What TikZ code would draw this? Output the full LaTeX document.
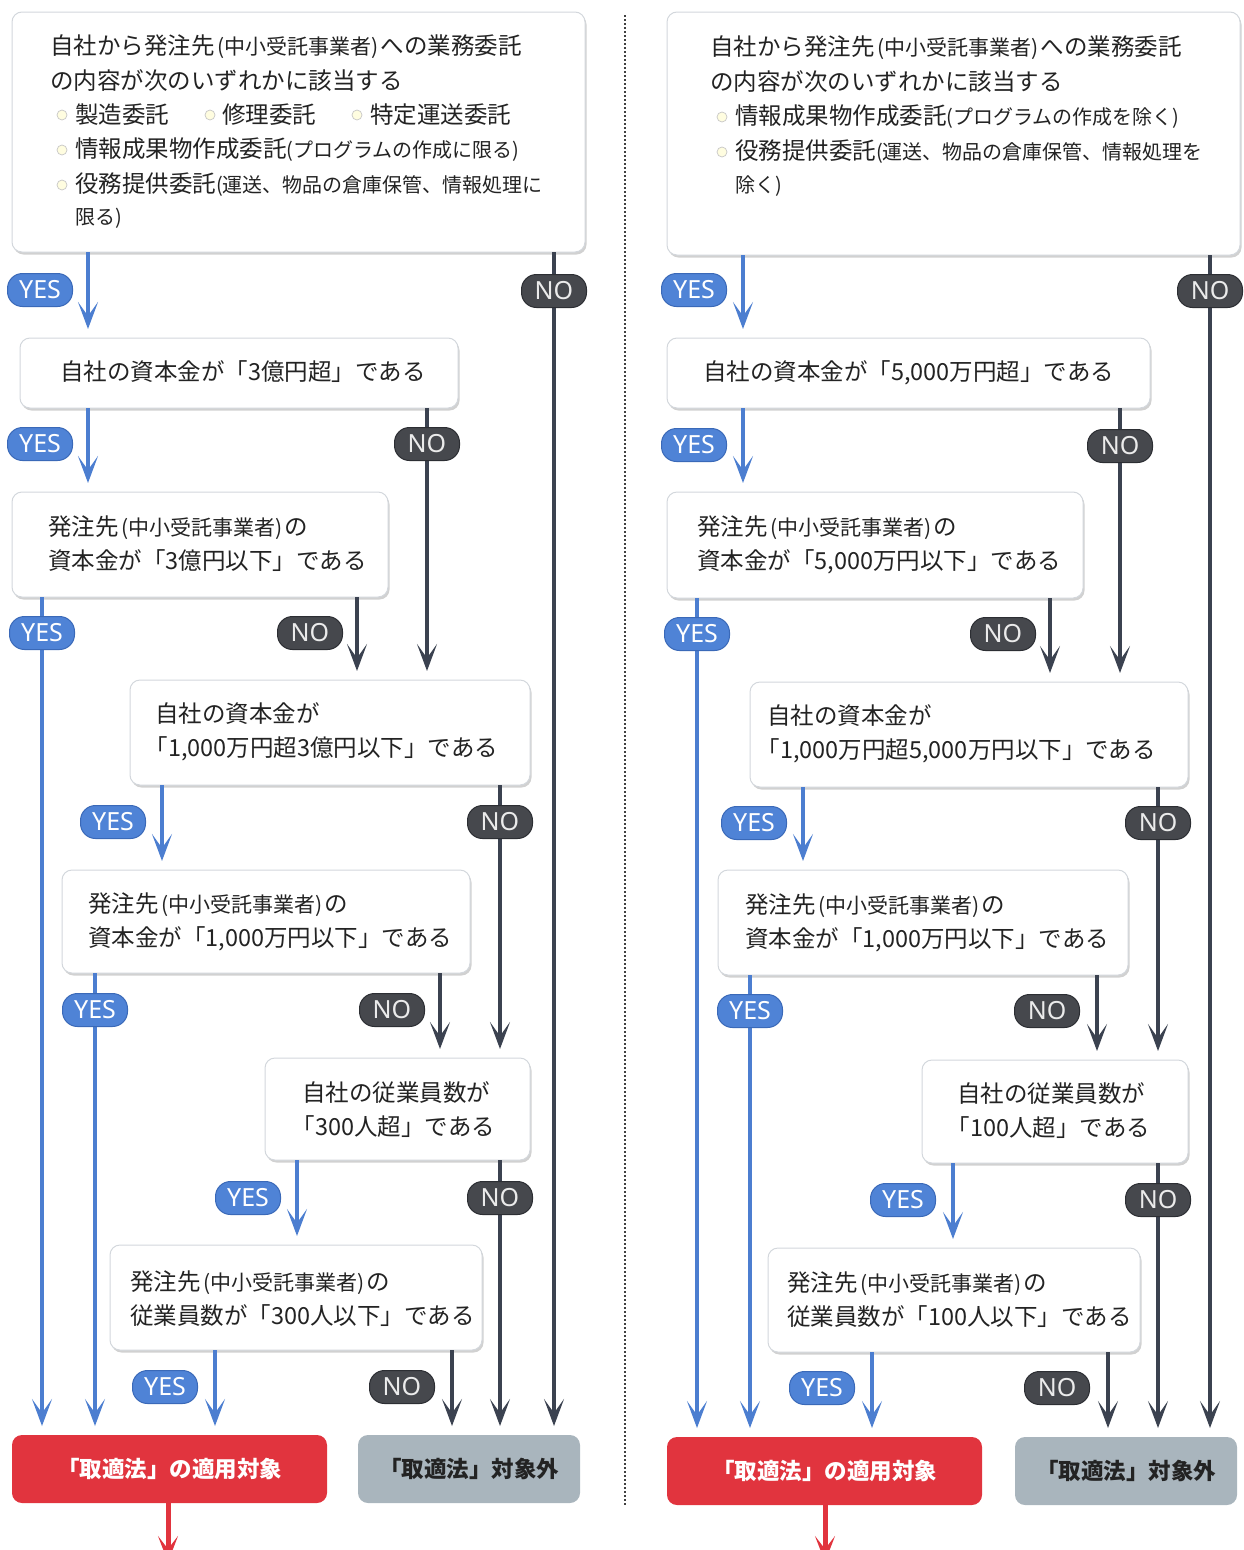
\documentclass[tikz,border=0pt]{standalone}
\usepackage{fontspec}
\setmainfont{Noto Sans CJK JP}
\newfontfamily\latfont{Noto Sans}
\usetikzlibrary{arrows.meta,shadows}
\definecolor{yesline}{HTML}{4C7ED0}
\definecolor{yesfill}{HTML}{4F83D6}
\definecolor{yesdraw}{HTML}{3A69B8}
\definecolor{noline}{HTML}{3B4250}
\definecolor{nofill}{HTML}{46484D}
\definecolor{nodraw}{HTML}{2C2E33}
\definecolor{redbox}{HTML}{E1343E}
\definecolor{graybox}{HTML}{A9B5BD}
\definecolor{boxline}{HTML}{D3D7DC}
\definecolor{txtcol}{HTML}{232323}
\newcommand\sm[1]{{\fontsize{20}{34}\selectfont #1}}
\newcommand\smp[1]{\hspace{3pt}{\fontsize{21}{34}\selectfont #1}\hspace{2pt}}
\newcommand\ob{\hspace*{-0.45em}}
\newcommand\mkbox[7]{\node[#1, minimum width={(#5-#3)*1pt}, minimum height={(#6-#4)*1pt}] (#2) at ({(#3+#5)/2},{(#4+#6)/2}) {#7};}
\begin{document}
\begin{tikzpicture}[x=1pt,y=-1pt,
  box/.style={draw=boxline, line width=1pt, fill=white, rounded corners=10pt, inner sep=0pt, outer sep=0pt,
    drop shadow={shadow xshift=1.5pt, shadow yshift=-2.5pt, opacity=0.18, fill=black}},
  redterm/.style={fill=redbox, rounded corners=10pt, inner sep=0pt, outer sep=0pt, text=white,
    font=\fontsize{22.5}{26}\bfseries\selectfont},
  grayterm/.style={fill=graybox, rounded corners=10pt, inner sep=0pt, outer sep=0pt, text=txtcol,
    font=\fontsize{22.5}{26}\bfseries\selectfont},
  txt/.style={anchor=west, inner sep=0pt, align=left, text=txtcol, font=\fontsize{23.5}{34}\selectfont},
  bul/.style={circle, minimum size=10pt, inner sep=0pt, draw=black!22, line width=0.7pt, fill=yellow!12},
  tip/.style={-{Stealth[length=27pt,width=20pt,inset=14pt]}},
  yarr/.style={tip, draw=yesline, line width=4.5pt, shorten >=9pt},
  narr/.style={tip, draw=noline, line width=4pt, shorten >=9pt},
  rarr/.style={-{Stealth[length=26pt,width=20pt,inset=13pt]}, draw=redbox, line width=5pt},
  pill/.style={rounded corners=15pt, minimum width=65pt, minimum height=33pt, inner sep=0pt, line width=1pt,
    font=\latfont\fontsize{25}{25}\selectfont},
  yespill/.style={pill, fill=yesfill, draw=yesdraw, text=white},
  nopill/.style={pill, fill=nofill, draw=nodraw, text=white!92!black},
  sep/.style={draw=black!75, line width=2.2pt, dash pattern=on 1.6pt off 2.4pt}
]
\useasboundingbox (0,0) rectangle (1243,1550);

% ---------------- separator ----------------
\coordinate (sepT) at (625,15);
\coordinate (sepB) at (625,1505);
\draw[sep] (sepT) -- (sepB);

% ---------------- left column boxes ----------------
\mkbox{box}{a1}{12}{12}{585}{252}{}
\mkbox{box}{b1}{20}{338}{458}{408}{}
\mkbox{box}{c1}{12}{492}{388}{597}{}
\mkbox{box}{d1}{130}{680}{530}{785}{}
\mkbox{box}{c2}{62}{870}{470}{973}{}
\mkbox{box}{e1}{265}{1058}{530}{1160}{}
\mkbox{box}{f1}{110}{1245}{482}{1350}{}
\mkbox{redterm}{r1}{12}{1435}{327}{1503}{「取適法」の適用対象}
\mkbox{grayterm}{g1}{358}{1435}{580}{1503}{「取適法」対象外}

% ---------------- right column boxes ----------------
\mkbox{box}{a2}{667}{12}{1240}{255}{}
\mkbox{box}{b2}{667}{338}{1150}{408}{}
\mkbox{box}{c3}{667}{492}{1083}{598}{}
\mkbox{box}{d2}{750}{682}{1188}{787}{}
\mkbox{box}{c4}{718}{870}{1128}{975}{}
\mkbox{box}{e2}{922}{1060}{1188}{1163}{}
\mkbox{box}{f2}{768}{1248}{1140}{1352}{}
\mkbox{redterm}{r2}{667}{1437}{982}{1505}{「取適法」の適用対象}
\mkbox{grayterm}{g2}{1015}{1437}{1237}{1505}{「取適法」対象外}

% ---------------- texts left ----------------
\node[txt] (a1l1) at (50,47) {自社から発注先\smp{(中小受託事業者)}への業務委託};
\node[txt] (a1l2) at (50,81) {の内容が次のいずれかに該当する};
\node[bul] (bu1) at (62,115) {};
\node[txt] (a1l3a) at (75,115) {製造委託};
\node[bul] (bu2) at (210,115) {};
\node[txt] (a1l3b) at (222,115) {修理委託};
\node[bul] (bu3) at (357,115) {};
\node[txt] (a1l3c) at (370,115) {特定運送委託};
\node[bul] (bu4) at (62,150) {};
\node[txt] (a1l4) at (75,150) {情報成果物作成委託\sm{(プログラムの作成に限る)}};
\node[bul] (bu5) at (62,185) {};
\node[txt] (a1l5) at (75,185) {役務提供委託\sm{(運送、物品の倉庫保管、情報処理に}};
\node[txt] (a1l6) at (75,218) {\sm{限る)}};

\node[txt] (b1t) at (60,372) {自社の資本金が「3億円超」である};
\node[txt] (c1t) at (48,544) {発注先\smp{(中小受託事業者)}の\\資本金が「3億円以下」である};
\node[txt] (d1t) at (155,732) {自社の資本金が\\\ob「1,000万円超3億円以下」である};
\node[txt] (c2t) at (88,922) {発注先\smp{(中小受託事業者)}の\\資本金が「1,000万円以下」である};
\node[txt] (e1t) at (302,1110) {自社の従業員数が\\\ob「300人超」である};
\node[txt] (f1t) at (130,1299) {発注先\smp{(中小受託事業者)}の\\従業員数が「300人以下」である};

% ---------------- texts right ----------------
\node[txt] (a2l1) at (710,48) {自社から発注先\smp{(中小受託事業者)}への業務委託};
\node[txt] (a2l2) at (710,82) {の内容が次のいずれかに該当する};
\node[bul] (bu6) at (722,117) {};
\node[txt] (a2l3) at (735,117) {情報成果物作成委託\sm{(プログラムの作成を除く)}};
\node[bul] (bu7) at (722,152) {};
\node[txt] (a2l4) at (735,152) {役務提供委託\sm{(運送、物品の倉庫保管、情報処理を}};
\node[txt] (a2l5) at (735,186) {\sm{除く)}};

\node[txt] (b2t) at (703,373) {自社の資本金が「5,000万円超」である};
\node[txt] (c3t) at (697,545) {発注先\smp{(中小受託事業者)}の\\資本金が「5,000万円以下」である};
\node[txt] (d2t) at (767,734) {自社の資本金が\\\ob「1,000万円超5,000万円以下」である};
\node[txt] (c4t) at (745,923) {発注先\smp{(中小受託事業者)}の\\資本金が「1,000万円以下」である};
\node[txt] (e2t) at (957,1111) {自社の従業員数が\\\ob「100人超」である};
\node[txt] (f2t) at (787,1300) {発注先\smp{(中小受託事業者)}の\\従業員数が「100人以下」である};

% ---------------- column x positions ----------------
\coordinate (LY1) at (88,0);   \coordinate (LN0) at (554,0);
\coordinate (LN1) at (427,0);  \coordinate (LY2) at (42,0);
\coordinate (LN2) at (357,0);  \coordinate (LY3) at (162,0);
\coordinate (LN3) at (500,0);  \coordinate (LY4) at (95,0);
\coordinate (LN4) at (440,0);  \coordinate (LY5) at (297,0);
\coordinate (LY6) at (215,0);  \coordinate (LN6) at (452,0);
\coordinate (RY1) at (743,0);  \coordinate (RN0) at (1210,0);
\coordinate (RN1) at (1120,0); \coordinate (RY2) at (697,0);
\coordinate (RN2) at (1050,0); \coordinate (RY3) at (803,0);
\coordinate (RN3) at (1158,0); \coordinate (RY4) at (750,0);
\coordinate (RN4) at (1097,0); \coordinate (RY5) at (953,0);
\coordinate (RY6) at (872,0);  \coordinate (RN6) at (1108,0);
\coordinate (out1) at (168,1562);
\coordinate (out2) at (825,1562);

% ---------------- connectors left ----------------
\draw[yarr] (a1.south -| LY1) -- (b1.north -| LY1);
\draw[narr] (a1.south -| LN0) -- (g1.north -| LN0);
\draw[yarr] (b1.south -| LY1) -- (c1.north -| LY1);
\draw[narr] (b1.south -| LN1) -- (d1.north -| LN1);
\draw[yarr] (c1.south -| LY2) -- (r1.north -| LY2);
\draw[narr] (c1.south -| LN2) -- (d1.north -| LN2);
\draw[yarr] (d1.south -| LY3) -- (c2.north -| LY3);
\draw[narr] (d1.south -| LN3) -- (e1.north -| LN3);
\draw[yarr] (c2.south -| LY4) -- (r1.north -| LY4);
\draw[narr] (c2.south -| LN4) -- (e1.north -| LN4);
\draw[yarr] (e1.south -| LY5) -- (f1.north -| LY5);
\draw[narr] (e1.south -| LN3) -- (g1.north -| LN3);
\draw[yarr] (f1.south -| LY6) -- (r1.north -| LY6);
\draw[narr] (f1.south -| LN6) -- (g1.north -| LN6);
\draw[rarr] (r1.south -| out1) -- (out1);

% ---------------- connectors right ----------------
\draw[yarr] (a2.south -| RY1) -- (b2.north -| RY1);
\draw[narr] (a2.south -| RN0) -- (g2.north -| RN0);
\draw[yarr] (b2.south -| RY1) -- (c3.north -| RY1);
\draw[narr] (b2.south -| RN1) -- (d2.north -| RN1);
\draw[yarr] (c3.south -| RY2) -- (r2.north -| RY2);
\draw[narr] (c3.south -| RN2) -- (d2.north -| RN2);
\draw[yarr] (d2.south -| RY3) -- (c4.north -| RY3);
\draw[narr] (d2.south -| RN3) -- (e2.north -| RN3);
\draw[yarr] (c4.south -| RY4) -- (r2.north -| RY4);
\draw[narr] (c4.south -| RN4) -- (e2.north -| RN4);
\draw[yarr] (e2.south -| RY5) -- (f2.north -| RY5);
\draw[narr] (e2.south -| RN3) -- (g2.north -| RN3);
\draw[yarr] (f2.south -| RY6) -- (r2.north -| RY6);
\draw[narr] (f2.south -| RN6) -- (g2.north -| RN6);
\draw[rarr] (r2.south -| out2) -- (out2);

% ---------------- YES / NO labels left ----------------
\node[yespill] (ly1) at (40,290) {YES};
\node[nopill]  (ln1) at (554,291) {NO};
\node[yespill] (ly2) at (40,444) {YES};
\node[nopill]  (ln2) at (427,444) {NO};
\node[yespill] (ly3) at (42,633) {YES};
\node[nopill]  (ln3) at (310,633) {NO};
\node[yespill] (ly4) at (113,822) {YES};
\node[nopill]  (ln4) at (500,822) {NO};
\node[yespill] (ly5) at (95,1010) {YES};
\node[nopill]  (ln5) at (392,1010) {NO};
\node[yespill] (ly6) at (248,1198) {YES};
\node[nopill]  (ln6) at (500,1198) {NO};
\node[yespill] (ly7) at (165,1387) {YES};
\node[nopill]  (ln7) at (402,1387) {NO};

% ---------------- YES / NO labels right ----------------
\node[yespill] (ry1) at (694,290) {YES};
\node[nopill]  (rn1) at (1210,291) {NO};
\node[yespill] (ry2) at (694,445) {YES};
\node[nopill]  (rn2) at (1120,446) {NO};
\node[yespill] (ry3) at (697,634) {YES};
\node[nopill]  (rn3) at (1003,634) {NO};
\node[yespill] (ry4) at (754,823) {YES};
\node[nopill]  (rn4) at (1158,823) {NO};
\node[yespill] (ry5) at (750,1011) {YES};
\node[nopill]  (rn5) at (1047,1011) {NO};
\node[yespill] (ry6) at (903,1200) {YES};
\node[nopill]  (rn6) at (1158,1200) {NO};
\node[yespill] (ry7) at (822,1388) {YES};
\node[nopill]  (rn7) at (1057,1388) {NO};
\end{tikzpicture}
\end{document}
